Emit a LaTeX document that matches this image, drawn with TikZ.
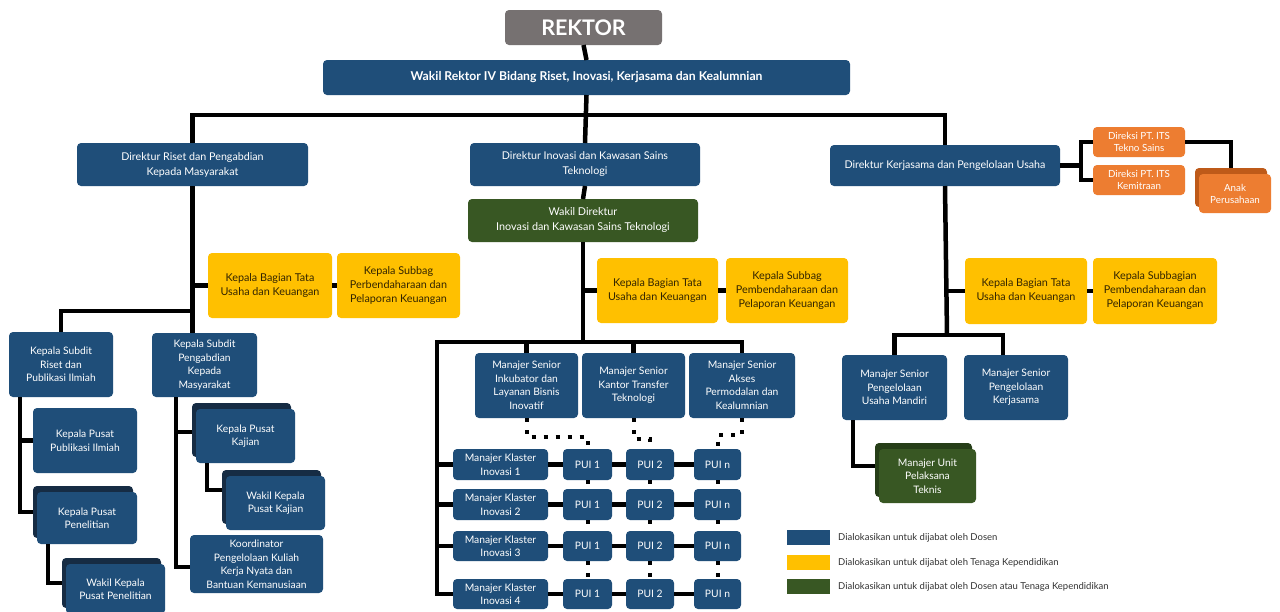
\documentclass[tikz,border=0pt]{standalone}
\usepackage{fontspec}
\setmainfont{Lato}
\usetikzlibrary{calc}
\definecolor{ublue}{RGB}{31,78,121}
\definecolor{ubluedark}{RGB}{22,44,68}
\definecolor{uyellow}{RGB}{255,192,0}
\definecolor{ugreen}{RGB}{56,87,35}
\definecolor{ugreendark}{RGB}{38,62,24}
\definecolor{uorange}{RGB}{237,125,49}
\definecolor{uorangedark}{RGB}{190,90,25}
\definecolor{ugray}{RGB}{118,113,113}
\definecolor{utext}{RGB}{50,36,0}
\newcommand\bx[7]{\node[#1,minimum width={#5pt-#3pt},minimum height={#6pt-#4pt}] (#2) at ({(#3+#5)/2},{(#4+#6)/2}) {#7};}
\newcommand\sbx[8]{%
  \node[backbox,fill=#2,minimum width={#7pt-#5pt},minimum height={#8pt-#6pt}] (#3-b) at ({(#5+#7)/2-4},{(#6+#8)/2-6}) {};%
  \node[#1,minimum width={#7pt-#5pt},minimum height={#8pt-#6pt}] (#3) at ({(#5+#7)/2},{(#6+#8)/2}) {#4};}
\tikzset{
  box/.style={rounded corners=4pt,inner sep=0pt,outer sep=0pt,align=center,text=white,
    font=\fontsize{10.3}{13.5}\selectfont},
  backbox/.style={rounded corners=4pt,inner sep=0pt,outer sep=0pt},
  bluebox/.style={box,fill=ublue},
  dirbox/.style={box,fill=ublue,font=\fontsize{10.7}{15}\selectfont},
  yellowbox/.style={box,fill=uyellow,text=utext,font=\fontsize{10.8}{14}\selectfont},
  greenbox/.style={box,fill=ugreen},
  orangebox/.style={box,fill=uorange,font=\fontsize{9.8}{12}\selectfont},
  graybox/.style={box,fill=ugray},
  conn/.style={line width=4.5pt,draw=black},
  dotconn/.style={line width=4pt,draw=black,dash pattern=on 4pt off 8pt},
  legtext/.style={anchor=west,inner sep=0pt,text=black!80,font=\fontsize{9.5}{11}\selectfont},
}
\begin{document}
\begin{tikzpicture}[x=1pt,y=-1pt]
\useasboundingbox[fill=white] (0,0) rectangle (1280,611);
\coordinate (topbar) at (584,115);
\coordinate (cbar) at (437,342);
\coordinate (rbar) at (947,335);
\coordinate (lbar) at (192,311);
\coordinate (ob) at (1081,165);
% ---- boxes ----
\bx{graybox,font=\fontsize{21.5}{23}\selectfont\bfseries}{rektor}{505}{10}{662}{45}{REKTOR}
\bx{bluebox,font=\fontsize{12.2}{14}\selectfont\bfseries}{wr4}{323}{60}{850}{95}{Wakil Rektor IV Bidang Riset, Inovasi, Kerjasama dan Kealumnian}
\bx{dirbox}{dirRiset}{77}{143}{308}{186}{Direktur Riset dan Pengabdian\\Kepada Masyarakat}
\bx{dirbox}{dirIno}{470}{143}{700}{186}{Direktur Inovasi dan Kawasan Sains\\Teknologi}
\bx{dirbox}{dirKer}{830}{145}{1060}{186}{Direktur Kerjasama dan Pengelolaan Usaha}
\bx{orangebox}{ptTekno}{1093}{127}{1185}{157}{Direksi PT. ITS\\Tekno Sains}
\bx{orangebox}{ptKemi}{1093}{165}{1185}{195}{Direksi PT. ITS\\Kemitraan}
\bx{greenbox,font=\fontsize{10.8}{15}\selectfont}{wadir}{468}{199}{698}{242}{Wakil Direktur\\Inovasi dan Kawasan Sains Teknologi}
% left
\bx{yellowbox}{kbL}{208}{253}{332}{318}{Kepala Bagian Tata\\Usaha dan Keuangan}
\bx{yellowbox}{ksL}{337}{253}{460}{318}{Kepala Subbag\\Perbendaharaan dan\\Pelaporan Keuangan}
\bx{bluebox}{sdR}{9}{332}{113}{397}{Kepala Subdit\\Riset dan\\Publikasi Ilmiah}
\bx{bluebox}{sdP}{152}{333}{257}{397}{Kepala Subdit\\Pengabdian\\Kepada\\Masyarakat}
\bx{bluebox}{kpPub}{33}{408}{137}{473}{Kepala Pusat\\Publikasi Ilmiah}
\bx{bluebox}{koor}{190}{535}{323}{593}{Koordinator\\Pengelolaan Kuliah\\Kerja Nyata dan\\Bantuan Kemanusiaan}
% center
\bx{yellowbox}{kbC}{597}{258}{718}{323}{Kepala Bagian Tata\\Usaha dan Keuangan}
\bx{yellowbox}{ksC}{726}{258}{848}{323}{Kepala Subbag\\Pembendaharaan dan\\Pelaporan Keuangan}
\bx{bluebox}{msInk}{475}{353}{578}{418}{Manajer Senior\\Inkubator dan\\Layanan Bisnis\\Inovatif}
\bx{bluebox}{msKan}{582}{353}{685}{418}{Manajer Senior\\Kantor Transfer\\Teknologi}
\bx{bluebox}{msAks}{689}{353}{795}{418}{Manajer Senior\\Akses\\Permodalan dan\\Kealumnian}
\bx{bluebox}{mk1}{453}{449}{548}{480}{Manajer Klaster\\Inovasi 1}
\bx{bluebox}{mk2}{453}{489}{548}{520}{Manajer Klaster\\Inovasi 2}
\bx{bluebox}{mk3}{453}{531}{548}{561}{Manajer Klaster\\Inovasi 3}
\bx{bluebox}{mk4}{453}{579}{548}{609}{Manajer Klaster\\Inovasi 4}
\foreach \r/\ya/\yb in {1/449/480,2/489/520,3/531/561,4/579/609}{
  \bx{bluebox}{pa\r}{563}{\ya}{612}{\yb}{PUI 1}
  \bx{bluebox}{pb\r}{626}{\ya}{674}{\yb}{PUI 2}
  \bx{bluebox}{pn\r}{694}{\ya}{741}{\yb}{PUI n}
}
% right
\bx{yellowbox}{kbR}{965}{258}{1087}{324}{Kepala Bagian Tata\\Usaha dan Keuangan}
\bx{yellowbox}{ksR}{1093}{258}{1217}{324}{Kepala Subbagian\\Pembendaharaan dan\\Pelaporan Keuangan}
\bx{bluebox}{msUM}{842}{355}{947}{420}{Manajer Senior\\Pengelolaan\\Usaha Mandiri}
\bx{bluebox}{msKS}{964}{355}{1068}{420}{Manajer Senior\\Pengelolaan\\Kerjasama}
% stacked boxes
\sbx{bluebox}{ubluedark}{kpPen}{Kepala Pusat\\Penelitian}{37}{492}{137}{544}
\sbx{bluebox}{ubluedark}{wkPen}{Wakil Kepala\\Pusat Penelitian}{66}{564}{165}{614}
\sbx{bluebox}{ubluedark}{kpKaj}{Kepala Pusat\\Kajian}{196}{409}{295}{463}
\sbx{bluebox}{ubluedark}{wkKaj}{Wakil Kepala\\Pusat Kajian}{226}{476}{325}{530}
\sbx{greenbox}{ugreendark}{mUPT}{Manajer Unit\\Pelaksana\\Teknis}{879}{449}{976}{503}
\sbx{orangebox}{uorangedark}{anak}{Anak\\Perusahaan}{1199}{174}{1271}{213}
% ---- connectors ----
\draw[conn] (rektor.south) -- (wr4.north);
\draw[conn] (wr4.south) -- (dirIno.north);
\draw[conn] (dirRiset.north) |- (topbar) -| (dirKer.north);
\draw[conn] (dirIno.south) -- (wadir.north);
% left branch
\draw[conn] (dirRiset.south) -- (dirRiset.south |- sdP.north);
\draw[conn] (dirRiset.south |- lbar) -| (sdR.north);
\draw[conn] (dirRiset.south |- kbL.west) -- (kbL.west);
\draw[conn] (kbL.east) -- (ksL.west);
\draw[conn] ($(sdR.south west)+(11,0)$) |- (kpPub.west);
\draw[conn] ($(sdR.south west)+(11,0)$) |- (kpPen-b.west);
\draw[conn] ($(kpPen.south west)+(11,0)$) |- (wkPen-b.west);
\draw[conn] ($(sdP.south west)+(24,0)$) |- ($(kpKaj-b.west)+(0,2)$);
\draw[conn] ($(sdP.south west)+(24,0)$) |- ($(koor.west)+(0,3)$);
\draw[conn] ($(kpKaj.south west)+(11,0)$) |- ($(wkKaj-b.west)+(0,-7)$);
% center branch
\draw[conn] (wadir.south) -- (wadir.south |- cbar);
\draw[conn] (wadir.south |- kbC.west) -- (kbC.west);
\draw[conn] (kbC.east) -- (ksC.west);
\draw[conn] (msAks.north) |- (cbar) |- (mk4.west);
\draw[conn] (msInk.north) -- (msInk.north |- cbar);
\draw[conn] (msKan.north) -- (msKan.north |- cbar);
\foreach \r in {1,2,3}{\draw[conn] (cbar |- mk\r.west) -- (mk\r.west);}
\foreach \r in {1,2,3,4}{
  \draw[conn] (mk\r.east) -- (pa\r.west);
  \draw[conn] (pa\r.east) -- (pb\r.west);
  \draw[conn] (pb\r.east) -- (pn\r.west);
}
\draw[dotconn] (msInk.south) |- ($(pa1.north)+(0,-12)$) -- (pa1.north);
\draw[dotconn] (msKan.south) |- ($(pb1.north)+(0,-10)$) -- (pb1.north);
\draw[dotconn] (msAks.south) |- ($(pn1.north)+(0,-14)$) -- (pn1.north);
\foreach \c in {pa,pb,pn}{
  \draw[dotconn] (\c1.south) -- (\c2.north);
  \draw[dotconn] (\c2.south) -- (\c3.north);
  \draw[dotconn] (\c3.south) -- (\c4.north);
}
% right branch
\draw[conn] (dirKer.south) -- (rbar);
\draw[conn] (dirKer.south |- kbR.west) -- (kbR.west);
\draw[conn] (kbR.east) -- (ksR.west);
\draw[conn] (msUM.north) |- (rbar);
\draw[conn] ($(msKS.north)+(-13,0)$) |- (rbar);
\draw[conn] ($(msUM.south west)+(11,0)$) |- ($(mUPT-b.west)+(0,-4)$);
% orange
\draw[conn] (dirKer.east) -- (dirKer.east -| ob);
\draw[conn] (ptTekno.west) -| (ob) |- (ptKemi.west);
\draw[conn] (ptTekno.east) -| (anak-b.north);
% legend
\node[fill=ublue,minimum width=43pt,minimum height=15pt,inner sep=0pt] (lg1) at (808.5,537.5) {};
\node[fill=uyellow,minimum width=43pt,minimum height=15pt,inner sep=0pt] (lg2) at (808.5,562.5) {};
\node[fill=ugreen,minimum width=43pt,minimum height=15pt,inner sep=0pt] (lg3) at (808.5,586.5) {};
\node[legtext] (lt1) at (838,537.5) {Dialokasikan untuk dijabat oleh Dosen};
\node[legtext] (lt2) at (838,562.5) {Dialokasikan untuk dijabat oleh Tenaga Kependidikan};
\node[legtext] (lt3) at (838,586.5) {Dialokasikan untuk dijabat oleh Dosen atau Tenaga Kependidikan};
\end{tikzpicture}
\end{document}
